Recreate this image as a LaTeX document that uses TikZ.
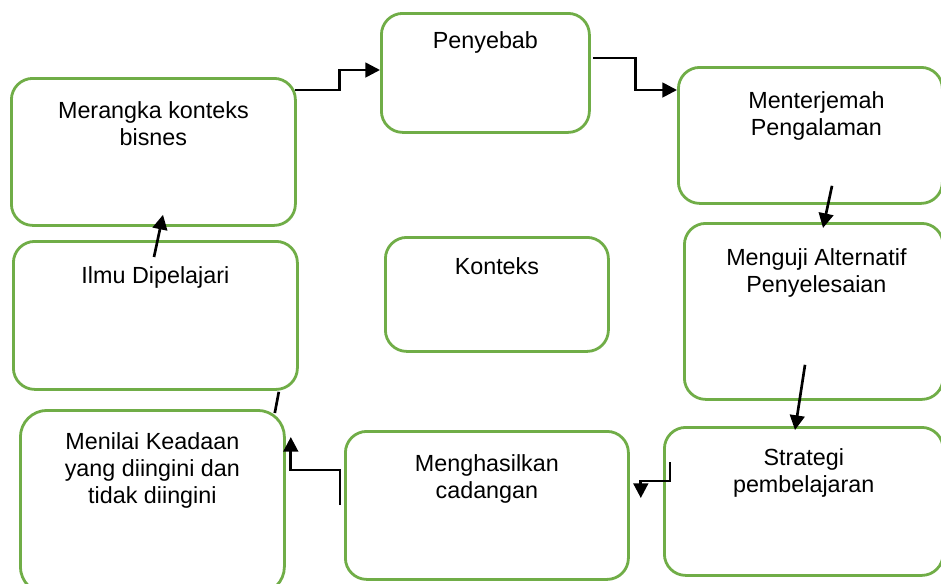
\documentclass[tikz,border=0pt]{standalone}
\usepackage{fontspec}
\setmainfont{Liberation Sans}
\usetikzlibrary{arrows.meta,calc,positioning}

\definecolor{boxgreen}{RGB}{112,173,71}

\tikzset{
  box/.style={draw=boxgreen, line width=2.1pt, rounded corners=16pt,
    inner sep=0pt, anchor=north west},
  txt/.style={inner sep=0pt, align=center, anchor=north,
    font=\fontsize{17.5}{20.25}\selectfont},
  flow/.style={line width=2pt, -{Triangle[length=11pt,width=11pt]}},
}

\begin{document}
\begin{tikzpicture}[x=0.75pt, y=-0.75pt]
    \useasboundingbox (0,0) rectangle (941,583);
    \clip (0,0) rectangle (941,583);

    % the boxes
    \node[box, minimum width=213pt, minimum height=110.25pt] (merangka) at (10,77) {};
    \node[box, minimum width=156pt, minimum height=89.25pt] (penyebab) at (380,12) {};
    \node[box, minimum width=198pt, minimum height=102pt] (menterjemah) at (677,66) {};
    \node[box, minimum width=194pt, minimum height=132pt] (menguji) at (683,222) {};
    \node[box, minimum width=167.25pt, minimum height=85.5pt] (konteks) at (384,236) {};
    \node[box, minimum width=213pt, minimum height=111pt] (ilmu) at (12,240) {};
    \node[box, minimum width=198pt, minimum height=137.25pt, rounded corners=20pt] (menilai) at (19,409) {};
    \node[box, minimum width=212.25pt, minimum height=111pt] (menghasilkan) at (344,430) {};
    \node[box, minimum width=209pt, minimum height=111pt] (strategi) at (663,426) {};

    % the texts
    \node[txt, below=18.25pt of merangka.north] (merangka-t) {Merangka konteks\\bisnes};
    \node[txt, below=14.5pt of penyebab.north] (penyebab-t) {Penyebab};
    \node[txt, below=19pt of menterjemah.north, xshift=4.5pt] (menterjemah-t) {Menterjemah\\Pengalaman};
    \node[txt, below=19.75pt of menguji.north, xshift=2pt] (menguji-t) {Menguji Alternatif\\Penyelesaian};
    \node[txt, below=16pt of konteks.north] (konteks-t) {Konteks};
    \node[txt, below=19.75pt of ilmu.north] (ilmu-t) {Ilmu Dipelajari};
    \node[txt, below=17.5pt of menilai.north] (menilai-t) {Menilai Keadaan\\yang diingini dan\\tidak diingini};
    \node[txt, below=18.25pt of menghasilkan.north] (menghasilkan-t) {Menghasilkan\\cadangan};
    \node[txt, below=16.75pt of strategi.north] (strategi-t) {Strategi\\pembelajaran};

    % the connectors
    \draw[flow] ($(merangka.north east)+(-2,13)$) -- ++(45,0)
      |- ($(penyebab.north west)+(0,58)$);
    \draw[flow] ($(penyebab.north east)+(2,46)$) -- ++(43,0)
      |- ($(menterjemah.north west)+(0,24)$);
    \draw[flow] ($(menterjemah.south west)+(155,-19)$) -- ($(menguji.north west)+(140,6)$);
    \draw[flow] ($(menguji.south west)+(122,-36)$) -- ($(strategi.north west)+(132,4)$);
    \draw[flow] ($(strategi.north west)+(7,36)$) -- ++(0,19)
      -| ($(menghasilkan.north east)+(11,68)$);
    \draw[flow] ($(menghasilkan.north west)+(-4,75)$) -- ++(0,-35)
      -| ($(menilai.north east)+(5,28)$);
    \draw[line width=2pt] ($(menilai.north east)+(-11,4)$) -- ($(ilmu.south east)+(-20,1)$);
    \draw[flow] ($(ilmu.north west)+(142,17)$) -- ($(merangka.south west)+(153,-12)$);
\end{tikzpicture}
\end{document}
